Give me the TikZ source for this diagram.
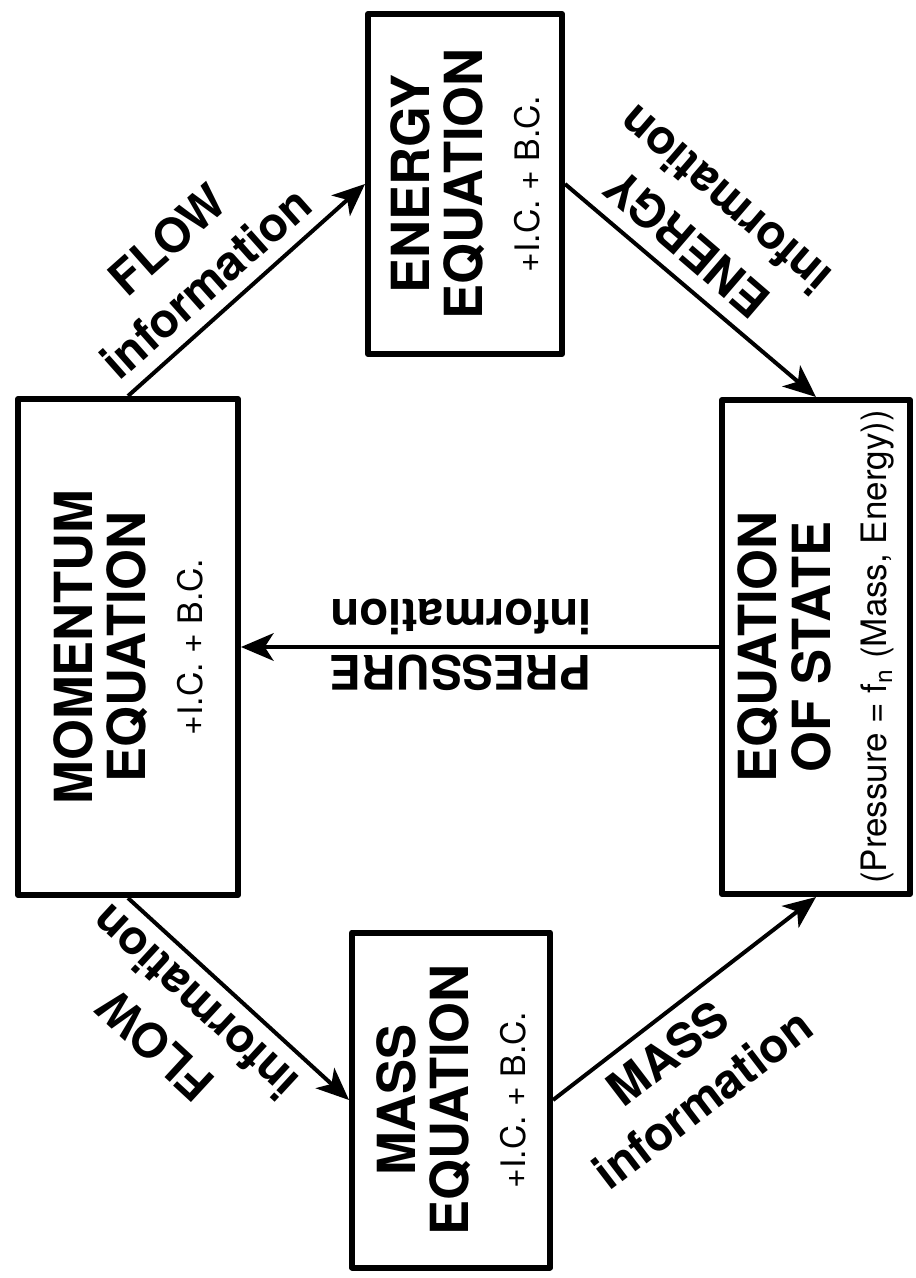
\documentclass[tikz,border=0pt]{standalone}
\usepackage{fontspec}
\setmainfont{TeX Gyre Heros}
\usetikzlibrary{arrows.meta}

% small third line of the boxes
\newcommand{\icbc}{{\mdseries\fontsize{13.5}{13.5}\selectfont +I.C. + B.C.}}

\begin{document}
\begin{tikzpicture}[x=0.4pt, y=-0.4pt, line join=round,
    box/.style={draw, line width=2.4pt, rotate=90, align=center, inner sep=0pt,
        font=\bfseries\fontsize{21}{21.5}\selectfont},
    flow/.style={-{Stealth[length=13pt, width=11pt, inset=3.5pt]}, line width=1.6pt},
    lab/.style={align=center, inner sep=0pt, outer sep=6pt,
        font=\bfseries\fontsize{19}{23}\selectfont}]
    \useasboundingbox (0,0) rectangle (915,1278);

    % The four equation boxes (text turned by 90 degrees)
    \node[box, minimum width=136pt, minimum height=77.6pt] (en) at (465,184)
        {ENERGY\\EQUATION\\[1pt]\icbc};
    \node[box, minimum width=198.4pt, minimum height=88pt] (mom) at (128,647)
        {MOMENTUM\\EQUATION\\[1pt]\icbc};
    \node[box, minimum width=197.6pt, minimum height=75.2pt] (eos) at (816,647)
        {EQUATION\\OF STATE\\[1pt]{\mdseries\fontsize{14}{14}\selectfont (Pressure = f\textsubscript{n} (Mass, Energy))}};
    \node[box, minimum width=134pt, minimum height=79.2pt] (mass) at (451,1100)
        {MASS\\EQUATION\\[1pt]\icbc};

    % Information passed between the equations
    \draw[flow] (mom.east) -- (en.north)
        node[lab, pos=0.42, rotate=41.6, anchor=south] {FLOW\\information};
    \draw[flow] (en.south) -- (eos.east)
        node[lab, pos=0.4, rotate=139.3, anchor=north] {ENERGY\\information};
    \draw[flow] (eos.north) -- (mom.south)
        node[lab, pos=0.54, rotate=180, anchor=south, outer sep=3pt] {PRESSURE}
        node[lab, pos=0.54, rotate=180, anchor=north, outer sep=5pt] {information};
    \draw[flow] (mom.west) -- (mass.north)
        node[lab, pos=0.4, rotate=137.3, anchor=south] {FLOW\\information};
    \draw[flow] (mass.south) -- (eos.west)
        node[lab, pos=0.36, rotate=37.4, anchor=north] {MASS\\information};
\end{tikzpicture}
\end{document}
